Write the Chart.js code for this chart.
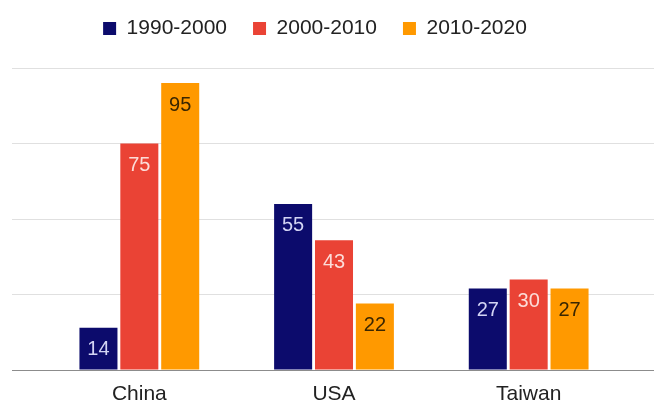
<!DOCTYPE html>
<html>
<head>
<meta charset="utf-8">
<script src="https://cdn.jsdelivr.net/npm/chart.js@4"></script>
<style>
  html, body { margin: 0; padding: 0; background: #fff; }
</style>
</head>
<body>
<canvas id="chart" width="654" height="404"></canvas>
<script>
const regions = ['China', 'USA', 'Taiwan'];
const decades = ['1990-2000', '2000-2010', '2010-2020'];
const growth1990s = [14, 55, 27];
const growth2000s = [75, 43, 30];
const growth2010s = [95, 22, 27];
const Y_MAX = 100;
const Y_STEP = 25;

const FONT = '"Liberation Sans", Arial, sans-serif';
const barColors = ['#0c0b6c', '#ea4335', '#ff9900'];
const labelColors = ['#d3d4f4', '#fcdcd8', '#3a2600'];

// writes each bar's value just under its top edge
const valueLabels = {
    id: 'valueLabels',
    afterDatasetsDraw(chart) {
        const ctx = chart.ctx;
        ctx.save();
        ctx.font = '20px ' + FONT;
        ctx.textAlign = 'center';
        ctx.textBaseline = 'middle';
        chart.data.datasets.forEach((ds, i) => {
            ctx.fillStyle = labelColors[i];
            chart.getDatasetMeta(i).data.forEach((bar, j) => {
                ctx.fillText(String(ds.data[j]), bar.x, bar.y + 22);
            });
        });
        ctx.restore();
    },
};

// fixed header height for the legend, and nudge it a bit up/left
const legendBox = {
    id: 'legendBox',
    beforeInit(chart) {
        const legend = chart.legend;
        const fit = legend.fit;
        legend.fit = function () {
            fit.call(this);
            this.height = 68;
        };
    },
    afterLayout(chart) {
        const legend = chart.legend;
        legend.left -= 18;
        legend.right -= 18;
        legend.top -= 8;
    },
};

const gridColor = (c) => (c.tick && c.tick.value === 0 ? '#8c8c8c' : '#e0e0e0');

const series = [growth1990s, growth2000s, growth2010s];

new Chart(document.getElementById('chart'), {
    type: 'bar',
    data: {
        labels: regions,
        datasets: series.map((values, i) => ({
            label: decades[i],
            data: values,
            backgroundColor: barColors[i],
            borderWidth: 0,
            categoryPercentage: 0.63,
            barPercentage: 0.93,
        })),
    },
    options: {
        responsive: false,
        animation: false,
        devicePixelRatio: 1,
        layout: { padding: { left: 12, right: 0, top: 0, bottom: 0 } },
        plugins: {
            tooltip: { enabled: false },
            legend: {
                display: true,
                position: 'top',
                labels: {
                    boxWidth: 13,
                    boxHeight: 13,
                    padding: 26,
                    color: '#222',
                    font: { family: FONT, size: 21 },
                },
            },
        },
        scales: {
            x: {
                grid: { display: false, drawTicks: false },
                border: { display: false },
                ticks: {
                    color: '#222',
                    padding: 14,
                    font: { family: FONT, size: 21, lineHeight: 1 },
                },
                afterFit(scale) {
                    scale.height = 34;
                },
            },
            y: {
                position: 'left',
                min: 0,
                max: Y_MAX,
                border: { display: false },
                grid: { color: gridColor, tickLength: 30, drawTicks: true },
                ticks: { display: false, stepSize: Y_STEP },
            },
            yRight: {
                position: 'right',
                min: 0,
                max: Y_MAX,
                border: { display: false },
                grid: { color: gridColor, tickLength: 28, drawTicks: true, drawOnChartArea: false },
                ticks: { display: false, stepSize: Y_STEP },
            },
        },
    },
    plugins: [valueLabels, legendBox],
});
</script>
</body>
</html>
